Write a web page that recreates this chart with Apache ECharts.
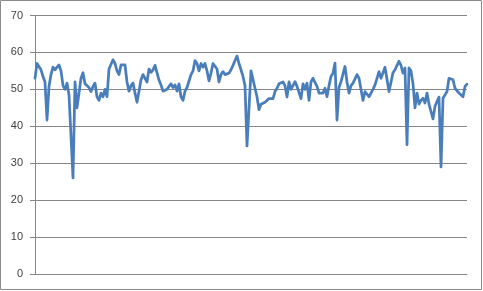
<!DOCTYPE html>
<html>
<head>
<meta charset="utf-8">
<script src="https://cdn.jsdelivr.net/npm/echarts@6/dist/echarts.min.js"></script>
<style>
html,body{margin:0;padding:0;background:#fff;}
#c{width:483px;height:291px;}
</style>
</head>
<body>
<div id="c"></div>
<script>
var yTicks = [0, 10, 20, 30, 40, 50, 60, 70];
var values = [
53,57,57,55.3,53.5,52,41.7,50.8,54,56,55.3,56,56.6,55,51,50,51.7,48.5,48,26,
52,45,49,53,54.5,51.5,51,50.5,49.4,50.8,51.7,48,47,49,48,50,48,55.5,55,58,
57,55,54,56.6,57,56.6,52,49.5,51,51.7,49,46.5,49.5,52.6,54,53.5,52,55.5,54.6,55.3,
56.5,56,52.5,51.2,49.5,50,50,50.8,51.5,50.5,51.2,49.5,51.5,48,47,49.5,50.5,50.8,54,55,
57.8,57,55,57,56,57,55,52.3,54.4,57,57.3,55.5,52,54,54.8,54,54.5,54.4,55.3,56.5,
57.8,59,57,55.3,53.5,51,34.7,35,55,55,50.3,48,44.5,46,46,46.5,46,47.5,47,47.5,
49.4,50.3,51.5,51,52,51,47.9,52,50,50.3,52.1,50.8,51.2,47.5,51.5,50,51.7,47,52,53,
52.5,50.8,49,49.5,49,50.3,48,51,53.5,54.4,57.1,41.7,50.5,52.1,52.1,56.2,52,49,51,51.7,
51.7,54,53,53,47,49.4,49,48,48.2,50,51.2,53,54.8,53,52.5,56,56,49.4,49.4,54.5,
55.3,56.5,57.6,56.5,54.4,55.8,35,55.8,55,51.5,45,49,46,47,47.6,46.3,49,46,44,42,
45.4,46.7,47.9,29,47.6,48.5,49.4,53,52.5,52.6,50.3,50.3,49,48.5,48,50.8,51.4
];
var categories = values.map(function(v, i){ return String(i + 1); });

var chart = echarts.init(document.getElementById('c'), null, {renderer: 'canvas'});
chart.setOption({
  animation: false,
  backgroundColor: '#ffffff',
  graphic: [{
    type: 'rect',
    shape: {x: 0.5, y: 0.5, width: 481, height: 289},
    style: {fill: 'none', stroke: '#8a8a8a', lineWidth: 1},
    silent: true
  }],
  grid: {left: 35, right: 16, top: 15.5, bottom: 17, containLabel: false},
  xAxis: {
    type: 'category',
    data: categories,
    boundaryGap: false,
    axisLine: {show: true, lineStyle: {color: '#868686', width: 1}},
    axisTick: {show: false},
    axisLabel: {show: false},
    splitLine: {show: false}
  },
  yAxis: {
    type: 'value',
    min: yTicks[0],
    max: yTicks[yTicks.length - 1],
    interval: 10,
    axisLine: {show: true, lineStyle: {color: '#868686', width: 1}},
    axisTick: {show: true, inside: false, length: 5, lineStyle: {color: '#868686'}},
    axisLabel: {
      margin: 12,
      color: '#404040',
      fontSize: 11,
      fontFamily: 'Liberation Sans, Arial, sans-serif'
    },
    splitLine: {show: true, lineStyle: {color: '#868686', width: 1}}
  },
  series: [{
    type: 'line',
    data: values,
    showSymbol: false,
    symbol: 'none',
    smooth: false,
    lineStyle: {color: '#4a7ebb', width: 2.75, join: 'round', cap: 'round'},
    itemStyle: {color: '#4a7ebb'}
  }]
});
</script>
</body>
</html>
